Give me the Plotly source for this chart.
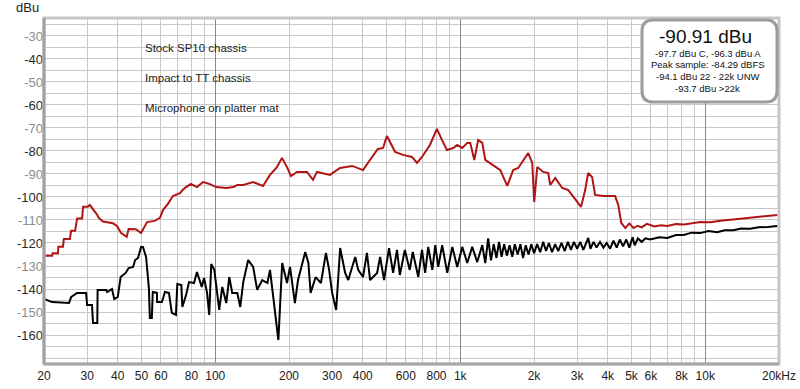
import plotly.graph_objects as go
import math

# ---------------- data ----------------
red_freq = [20, 21.6, 21.7, 22.8, 22.9, 23.9, 24.1, 25.5, 25.8, 26.8, 27.3, 28.6, 28.9, 30.2, 30.8, 31.6,
            33, 33.4, 34.8, 38.2, 39.7, 41.2, 43.5, 44.3, 47.4, 49.8, 51.2, 52.7, 56.6, 59.5, 61.2, 64.1,
            67.2, 71.8, 73.6, 76, 79.6, 84.2, 89.2, 94.5, 101, 110.9, 118.4, 123, 130.1, 142.6, 156.6,
            167.3, 178.6, 187.2, 196.3, 203.8, 215.6, 236.8, 250.6, 260.2, 294, 323, 362, 401, 428, 461,
            484, 502, 517, 542, 584, 635, 666, 698, 752, 803, 842, 882, 936, 972, 1019, 1068, 1099, 1141,
            1184, 1230, 1265, 1351, 1457, 1555, 1645, 1724, 1842, 1895, 1967, 2004, 2062, 2181, 2286,
            2330, 2442, 2607, 2760, 2948, 3113, 3235, 3327, 3453, 3552, 3832, 4286, 4415, 4543, 4720,
            4900, 5094, 5300, 5500, 5777, 6200, 6600, 7000, 7600, 8200, 9000, 9541, 10500, 11500, 13010,
            14500, 16000, 17500, 19700]
red_db = [-125.5, -125.5, -124.5, -124.5, -121.6, -121.6, -118.3, -118.3, -114.7, -114.7, -109.3, -109.3,
          -104.2, -104.2, -103.5, -105, -107.8, -109, -110.7, -111.4, -112.6, -115.6, -117.3, -113.9, -114,
          -115.7, -113, -110.9, -110.4, -109.1, -105.7, -103, -99.6, -98.3, -97, -95.7, -94.3, -95.7, -93.5,
          -94.3, -95.7, -96.1, -95.7, -94.8, -94.8, -93.5, -95.2, -90.4, -87, -83, -87, -90.9, -89.1, -89.1,
          -92.6, -89.1, -90.4, -87.4, -86.5, -88.3, -83.9, -79.1, -78.7, -73.5, -76.1, -80.4, -81.7, -82.6,
          -85.2, -82.6, -77.4, -70.4, -75.2, -79.6, -78.7, -77.4, -78.7, -76.5, -76.5, -83.9, -75.2, -76.5,
          -83.9, -86.1, -88.3, -95.2, -88.3, -87.4, -82.6, -80.9, -85.2, -102.2, -87, -89.1, -89.6, -94.8,
          -91.7, -96.1, -97, -101.3, -104.3, -97, -89.6, -91.3, -99.1, -99.6, -99.6, -103.5, -111.3, -113.5,
          -111.5, -113.5, -112.5, -113.2, -111.7, -112.8, -112.3, -112.6, -111.8, -112, -111.3, -110.9,
          -111, -110.3, -109.8, -109.3, -108.8, -108.5, -107.8]

black_freq = [20, 21.6, 25.3, 25.8, 27.3, 29.7, 30, 31.4, 31.7, 33, 33.1, 35.9, 36.2, 37.9, 38.7, 40, 41.1,
              43.1, 44.3, 46.2, 47.1, 48.4, 49.8, 50.7, 52.2, 53.6, 54.1, 55.1, 55.6, 57.8, 57.9, 60.6, 62.3,
              64.7, 66.5, 69.1, 70, 72.7, 73.4, 76, 78.2, 81.9, 84.2, 88.1, 90, 92.6, 94.5, 96.3, 99.1, 101.9,
              103.8, 106.8, 110.9, 114.1, 117.3, 123, 126.5, 130.1, 136.3, 142.8, 148.3, 155.5, 163.3, 167.3,
              172.5, 181, 187.6, 196.3, 201.9, 211.4, 217.7, 233, 240, 245, 257, 270, 283, 291.6, 300, 311.5,
              323.5, 339, 349, 372.7, 383.3, 401, 416, 428.6, 457.8, 470.9, 488.7, 512, 532, 552, 567, 594,
              622, 640, 674, 698, 719, 740, 769, 791, 813, 844, 885, 928, 972, 1019, 1068, 1119, 1173, 1230,
              1265, 1300, 1335, 1370, 1405, 1440, 1475, 1510, 1550, 1590, 1630, 1670, 1715, 1760, 1805, 1850,
              1900, 1950, 2000, 2060, 2120, 2180, 2240, 2300, 2370, 2440, 2510, 2590, 2670, 2750, 2830, 2910,
              3000, 3090, 3180, 3280, 3330, 3400, 3500, 3600, 3720, 3840, 3960, 4090, 4220, 4350, 4480, 4620,
              4760, 4900, 5050, 5150, 5310, 5500, 5700, 5950, 6500, 7000, 7600, 8165, 8800, 9541, 10300,
              11190, 12000, 13010, 14000, 15260, 16500, 18000, 19700]
black_db = [-144.3, -145.7, -146.1, -143.5, -141.7, -141.7, -147, -147, -154.8, -154.8, -140.4, -140.4,
            -141.3, -140, -144.3, -143.5, -134.8, -133, -130.9, -130.4, -127.4, -126.5, -121.7, -121.7,
            -126.1, -139.6, -152.6, -152.6, -141.3, -141.7, -145.7, -145.7, -141.3, -141.7, -150.4, -151.3,
            -137.8, -138.3, -147.8, -142.6, -137, -137.4, -132.6, -139.1, -135.2, -141.7, -151.3, -129.1,
            -131.7, -141.7, -149.1, -139.1, -146.1, -134.8, -141.7, -141.7, -147.8, -137, -127.4, -130.4,
            -140.4, -136.1, -137.4, -131.7, -143.5, -162.2, -128.7, -137.4, -130.4, -146.1, -136.1, -123.9,
            -128.7, -141.7, -134.8, -137.4, -124.3, -131.7, -141.7, -149.1, -122.2, -133, -136.1, -126.1,
            -131.7, -134.8, -124.3, -136.1, -133, -126.1, -136.1, -122.2, -133, -123, -133.9, -123, -131.7,
            -123.9, -134.8, -123, -133, -121.7, -131.7, -120.9, -130.4, -120.9, -133, -121.7, -130.4, -121.7,
            -128.7, -121.7, -128.3, -120.9, -128.7, -118, -127.5, -120.5, -126.5, -119.5, -126, -120.5,
            -125.5, -121, -126, -120.5, -125, -120.5, -126.5, -121, -125, -120.5, -124.5, -120.5, -124,
            -119.5, -123.5, -120, -124, -120.5, -123.5, -120, -123.5, -119.5, -123, -119.5, -122.5, -119.5,
            -123, -120, -117.8, -122.5, -119.5, -122, -119.5, -122, -120, -122.5, -119, -122, -118.5, -121.5,
            -118.5, -122, -117.5, -121, -118, -119.5, -118, -118.5, -117.5, -117.8, -116.5, -116.5, -115.5,
            -115.7, -114.8, -115.3, -114.5, -114.5, -113.7, -113.8, -113.2, -113, -112.6]

x_tick_vals = [20, 30, 40, 50, 60, 70, 80, 90, 100, 200, 300, 400, 500, 600, 700, 800, 900,
               1000, 2000, 3000, 4000, 5000, 6000, 7000, 8000, 9000, 10000, 20000]
x_tick_text = ["20", "30", "40", "50", "60", "", "80", "", "100", "200", "300", "400", "", "600", "",
               "800", "", "1k", "2k", "3k", "4k", "5k", "6k", "", "8k", "", "10k", "20kHz"]
x_decades = [100, 1000, 10000]
y_tick_vals = list(range(-170, -20, 5))
y_labels = [-30, -40, -50, -60, -70, -80, -90, -100, -110, -120, -130, -140, -150, -160]

notes = ["Stock SP10 chassis", "Impact to TT chassis", "Microphone on platter mat"]
box_title = "-90.91 dBu"
box_lines = ["-97.7 dBu C, -96.3 dBu A", "Peak sample: -84.29 dBFS",
             "-94.1 dBu 22 - 22k UNW", "-93.7 dBu >22k"]

# ---------------- layout helpers ----------------
W, H = 800, 389
PL, PT, PR, PB = 44, 18, 779, 364            # plot area on screen
ML, MT, MR, MB = PL, PT, W - PR, H - PB
PW, PH = PR - PL, PB - PT
FONT = "Liberation Sans, Arial, sans-serif"


def px(xs):
    return (xs - PL) / PW


def py(ys):
    return (PB - ys) / PH


def ylab(v):
    if v in y_labels:
        col = "#8c8c8c" if (abs(v) // 10) % 2 == 1 else "#2a2a2a"
        return f'<span style="color:{col}">{v}</span>'
    return ""


fig = go.Figure()
fig.add_trace(go.Scatter(x=red_freq, y=red_db, mode="lines",
                         line=dict(color="#b01414", width=2), hoverinfo="skip", showlegend=False))
fig.add_trace(go.Scatter(x=black_freq, y=black_db, mode="lines",
                         line=dict(color="#000000", width=2), hoverinfo="skip", showlegend=False))

xr = [math.log10(20), math.log10(20000)]
fig.update_layout(
    width=W, height=H, autosize=False,
    margin=dict(l=ML, r=MR, t=MT, b=MB, pad=0, autoexpand=False),
    paper_bgcolor="white", plot_bgcolor="white",
    font=dict(family=FONT, size=12, color="#222"),
    xaxis=dict(type="log", range=xr, tickmode="array", tickvals=x_tick_vals, ticktext=x_tick_text,
               showgrid=True, gridcolor="#c8c8c8", gridwidth=1, zeroline=False, showline=False,
               ticks="outside", ticklen=1, tickcolor="rgba(0,0,0,0)", automargin=False,
               tickfont=dict(size=12, color="#222")),
    xaxis2=dict(type="log", range=xr, overlaying="x", tickmode="array", tickvals=x_decades,
                showgrid=True, gridcolor="#8a8a8a", gridwidth=1, showticklabels=False, ticks="",
                zeroline=False, showline=False, side="bottom", automargin=False),
    yaxis=dict(range=[-172.6, -22.2], tickmode="array", tickvals=y_tick_vals,
               ticktext=[ylab(v) for v in y_tick_vals],
               showgrid=True, gridcolor="#c8c8c8", gridwidth=1, zeroline=False, showline=False,
               ticks="", automargin=False,
               tickfont=dict(size=13, color="#2a2a2a")),
)
fig.add_trace(go.Scatter(x=[20], y=[-100], xaxis="x2", mode="markers", marker=dict(opacity=0),
                         hoverinfo="skip", showlegend=False))

# frame
fig.add_shape(type="rect", xref="paper", yref="paper", x0=0, x1=1, y0=0, y1=1,
              line=dict(color="#c6c6c6", width=3), layer="above")
fig.add_shape(type="line", xref="paper", yref="paper", x0=0, x1=0, y0=0, y1=1,
              line=dict(color="#a0a0a0", width=3), layer="above")
fig.add_shape(type="line", xref="paper", yref="paper", x0=0, x1=1, y0=0, y1=0,
              line=dict(color="#a8a8a8", width=3), layer="above")

# info box (rounded)
bx0, bx1, by0, by1, r = 642, 777, 20, 102, 11
path = (f"M {px(bx0 + r)} {py(by0)} L {px(bx1 - r)} {py(by0)} Q {px(bx1)} {py(by0)} {px(bx1)} {py(by0 + r)} "
        f"L {px(bx1)} {py(by1 - r)} Q {px(bx1)} {py(by1)} {px(bx1 - r)} {py(by1)} "
        f"L {px(bx0 + r)} {py(by1)} Q {px(bx0)} {py(by1)} {px(bx0)} {py(by1 - r)} "
        f"L {px(bx0)} {py(by0 + r)} Q {px(bx0)} {py(by0)} {px(bx0 + r)} {py(by0)} Z")
fig.add_shape(type="path", xref="paper", yref="paper", path=path,
              line=dict(color="#9c9c9c", width=3), fillcolor="white", layer="above")

annos = []
annos.append(dict(x=px(27.5), y=py(8), text="dBu", font=dict(size=13, color="#222")))
for t, yy in zip(notes, [48, 78, 108]):
    annos.append(dict(x=px(143), y=py(yy), text=t, xanchor="left",
                      font=dict(size=11.5, color="#222")))
annos.append(dict(x=px(705), y=py(36), text=box_title, font=dict(size=19, color="#111")))
for t, yy in zip(box_lines, [53, 64.5, 76.5, 88.5]):
    annos.append(dict(x=px(707.5), y=py(yy), text=t, font=dict(size=9.5, color="#111")))
for a in annos:
    a.update(xref="paper", yref="paper", showarrow=False, yanchor="middle",
             xanchor=a.get("xanchor", "center"))
    fig.add_annotation(**a)

# remove the default 8px page margin so the figure sits at the window's top-left corner
fig.write_html("out.html", config={"displayModeBar": False},
               post_script="document.body.style.margin='0';document.body.style.overflow='hidden';")
